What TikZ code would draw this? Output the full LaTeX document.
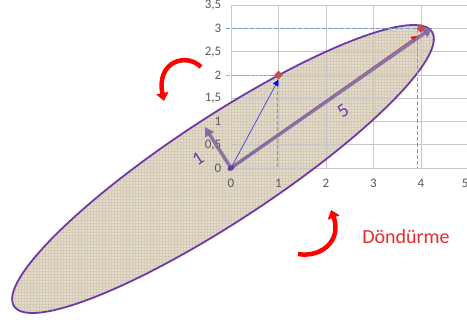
\documentclass[tikz,border=0pt]{standalone}
\usepackage{fontspec}
\setmainfont{Carlito}
\usetikzlibrary{arrows.meta,patterns,shapes.geometric}
\definecolor{ellpurple}{RGB}{112,56,166}
\definecolor{arrpurple}{RGB}{128,100,162}
\definecolor{linen}{RGB}{226,218,201}
\definecolor{linendark}{RGB}{205,195,175}
\definecolor{gridgray}{RGB}{200,200,200}
\definecolor{ticktext}{RGB}{89,89,89}
\definecolor{dashblue}{RGB}{127,156,200}
\definecolor{diamred}{RGB}{192,80,77}
\definecolor{bluearrow}{RGB}{80,80,210}
\definecolor{orangeline}{RGB}{228,90,50}
\definecolor{rotred}{RGB}{255,0,0}
\definecolor{labred}{RGB}{230,45,45}
\tikzset{
  gridline/.style={draw=gridgray, line width=0.8pt},
  ticklbl/.style={text=ticktext, font=\fontsize{13}{13}\selectfont, inner sep=0pt},
  guidedash/.style={draw=dashblue, line width=0.9pt, dash pattern=on 4pt off 2pt},
  guidedot/.style={draw=dashblue, line width=0.9pt, dash pattern=on 1.5pt off 1.2pt},
  ptmark/.style={diamond, fill=diamred, minimum size=9pt, inner sep=0pt},
  rotarrow/.style={draw=rotred, line width=4.5pt, -{Triangle[length=8pt,width=12pt]}},
  veclbl/.style={text=ellpurple, font=\fontsize{19}{19}\selectfont, rotate=34, inner sep=0pt}
}
\begin{document}
\begin{tikzpicture}[x=1pt,y=-1pt]
\clip (0,0) rectangle (467,322);
\fill[white] (0,0) rectangle (467,322);
% ellipse fill
\fill[linen, shift={(223,169)}, rotate=33.3] (0,0) ellipse [x radius=250pt, y radius=52pt];
\fill[pattern=grid, pattern color=linendark, opacity=0.6, shift={(223,169)}, rotate=33.3] (0,0) ellipse [x radius=250pt, y radius=52pt];
\begin{scope}[shift={(231,168)}, x=47.5pt, y=46.5pt]
  \draw[gridline] (0,0) grid[xstep=1, ystep=0.5] (5.2,3.5);
  \foreach \v/\t in {0/0,0.5/{0,5},1/1,1.5/{1,5},2/2,2.5/{2,5},3/3,3.5/{3,5}}
    \node[ticklbl, anchor=east] (yl\v) at (-0.2,\v) {\t};
  \foreach \u in {0,1,2,3,4}
    \node[ticklbl] (xl\u) at (\u,-0.33) {\u};
  \node[ticklbl] (xl5) at (4.93,-0.33) {5};
  \coordinate (O) at (0,0);
  \coordinate (P) at (1,2);
  \coordinate (Q) at (4,3);
  \coordinate (Pa) at (-0.1,2);
  \coordinate (Pb) at (0.98,0);
  \coordinate (Pc) at (0.98,1.92);
  \coordinate (Qa) at (-0.1,3);
  \coordinate (Qb) at (3.92,3);
  \coordinate (Qc) at (3.92,0);
  \coordinate (Bt) at (1,1.9);
  \coordinate (Rt) at (3.92,2.84);
  \coordinate (Mt) at (4.23,3.01);
  \coordinate (Nt) at (-0.55,0.88);
\end{scope}
% ellipse outline
\draw[ellpurple, line width=1.8pt, shift={(223,169)}, rotate=33.3] (0,0) ellipse [x radius=250pt, y radius=52pt];
% guide lines
\draw[guidedash] (Qa) -- (Q);
\draw[guidedash] (Qb) -- (Qc);
\draw[guidedot] (Pa) -- (P);
\draw[guidedash] (Pc) -- (Pb);
% vectors
\draw[orangeline, line width=0.9pt, -{Triangle[length=6pt,width=6pt,color=red]}] (O) -- (Rt);
\draw[arrpurple, opacity=0.85, line width=3.5pt, -{Triangle[length=9pt,width=10pt]}] (O) -- (Mt);
\draw[arrpurple, opacity=0.85, line width=3.5pt, -{Triangle[length=9pt,width=10pt]}] (O) -- (Nt);
\draw[bluearrow, line width=0.8pt, -{Triangle[length=6pt,width=6pt,color=blue]}] (O) -- (Bt);
\node[ptmark] (Pm) at (P) {};
\node[ptmark] (Qm) at (Q) {};
\fill[ellpurple, rotate around={30:(O)}] (O) ellipse [x radius=3.8pt, y radius=2.6pt];
% labels
\node[veclbl] (l1) at (198,159) {1};
\node[veclbl] (l5) at (343,111) {5};
% rotation arrows
\coordinate (r1s) at (201,67);
\coordinate (r1e) at (164,101);
\draw[rotarrow] (r1s) .. controls (186,52) and (156,62) .. (r1e);
\coordinate (r2s) at (298,254);
\coordinate (r2e) at (331,210);
\draw[rotarrow] (r2s) .. controls (322,258) and (342,240) .. (r2e);
\node[text=labred, font=\fontsize{20}{20}\selectfont, anchor=base, inner sep=0pt] (rot) at (406,243) {Döndürme};
\end{tikzpicture}
\end{document}
